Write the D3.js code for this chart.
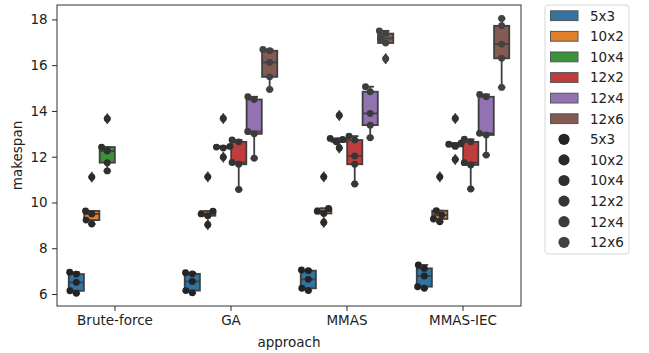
<!DOCTYPE html>
<html>
<head>
<meta charset="utf-8">
<title>makespan by approach</title>
<script src="https://cdn.jsdelivr.net/npm/d3@7/dist/d3.min.js"></script>
<style>
body { margin: 0; background: #fff; }
text { font-family: "DejaVu Sans", sans-serif; fill: #222; }
</style>
</head>
<body>
<script>
// categories and hue levels
var approaches = ["Brute-force", "GA", "MMAS", "MMAS-IEC"];
var sizes = ["5x3", "10x2", "10x4", "12x2", "12x4", "12x6"];
var yTicks = [6, 8, 10, 12, 14, 16, 18];

// makespan of the 5 runs, one list per size (same order as sizes)
var bruteForce = [[6.03, 6.14, 6.51, 6.87, 6.95], [9.06, 9.23, 9.5, 9.63, 11.11], [11.38, 11.74, 12.25, 12.42, 13.66], [], [], []];
var ga = [[6.05, 6.15, 6.55, 6.88, 6.93], [9.03, 9.42, 9.5, 9.62, 11.12], [11.98, 12.38, 12.42, 12.45, 13.67],
          [10.57, 11.67, 11.75, 12.65, 12.73], [11.93, 13.0, 13.1, 14.5, 14.62], [14.94, 15.49, 16.12, 16.63, 16.69]];
var mmas = [[6.15, 6.25, 6.64, 7.02, 7.05], [9.13, 9.52, 9.62, 9.74, 11.12], [12.38, 12.65, 12.75, 12.8, 13.8],
            [10.81, 11.67, 12.03, 12.73, 12.9], [12.83, 13.38, 13.89, 14.84, 15.06], [16.28, 16.97, 17.17, 17.38, 17.5]];
var mmasIec = [[6.25, 6.32, 6.79, 7.12, 7.27], [9.16, 9.28, 9.45, 9.64, 11.12], [11.88, 12.45, 12.55, 12.6, 13.67],
               [10.59, 11.64, 11.74, 12.65, 12.76], [12.07, 12.95, 13.02, 14.62, 14.72], [15.03, 16.3, 16.92, 17.72, 18.04]];
var runs = [bruteForce, ga, mmas, mmasIec];

var boxColors = ["#3274a1", "#e1812c", "#3a923a", "#c03d3e", "#9372b2", "#845b53"];
var dotColors = ["#232323", "#2a2a2a", "#303030", "#363636", "#3c3c3c", "#424242"];
var gray = "#3f3f3f";

var width = 649, height = 353;
var mLeft = 57, mRight = 521, mTop = 5, mBottom = 306;

var svg = d3.select("body").append("svg")
  .attr("width", width).attr("height", height)
  .style("background", "white");

var x = d3.scaleBand().domain(approaches).range([mLeft, mRight]);
var hue = d3.scaleBand().domain(sizes).range([-0.4 * x.bandwidth(), 0.4 * x.bandwidth()]);
var y = d3.scaleLinear().domain([5.476, 18.63]).range([mBottom, mTop]);

var boxW = hue.bandwidth() * 0.98;
var r = 3.45;

function center(a, s) { return x(a) + x.bandwidth() / 2 + hue(s) + hue.bandwidth() / 2; }

function stats(vals) {
  var v = vals.slice().sort(d3.ascending);
  var q1 = d3.quantile(v, 0.25), med = d3.quantile(v, 0.5), q3 = d3.quantile(v, 0.75);
  var iqr = q3 - q1;
  var inside = v.filter(function(d) { return d >= q1 - 1.5 * iqr && d <= q3 + 1.5 * iqr; });
  return {
    q1: q1, med: med, q3: q3,
    lo: d3.min(inside), hi: d3.max(inside),
    fliers: v.filter(function(d) { return d < q1 - 1.5 * iqr || d > q3 + 1.5 * iqr; })
  };
}

// simple beeswarm like seaborn: sorted by value, closest free spot, left wins ties
function swarm(vals) {
  var placed = [];
  var dia = 2 * r;
  vals.slice().sort(d3.ascending).forEach(function(v) {
    var py = y(v);
    var near = placed.filter(function(p) { return Math.abs(p.y - py) < dia; });
    var cands = [0];
    near.forEach(function(p) {
      var dx = Math.sqrt(dia * dia - (p.y - py) * (p.y - py));
      cands.push(p.dx - dx, p.dx + dx);
    });
    cands = cands.filter(function(c) {
      return near.every(function(p) {
        return Math.hypot(p.dx - c, p.y - py) >= dia - 1e-6;
      });
    });
    cands.sort(function(a, b) { return Math.abs(a) - Math.abs(b); });
    placed.push({ v: v, y: py, dx: cands[0] });
  });
  return placed;
}

// axes
var yAxis = svg.append("g")
  .attr("transform", "translate(" + mLeft + ",0)")
  .call(d3.axisLeft(y).tickValues(yTicks).tickSize(4.9).tickPadding(4.5).tickFormat(d3.format("d")));
var xAxis = svg.append("g")
  .attr("transform", "translate(0," + mBottom + ")")
  .call(d3.axisBottom(x).tickSize(4.9).tickPadding(5));
[xAxis, yAxis].forEach(function(g) {
  g.select(".domain").remove();
  g.selectAll("line").attr("stroke", "#222").attr("stroke-width", 1);
  g.selectAll("text").style("font-size", "13.5px").attr("fill", "#222");
});

svg.append("rect")
  .attr("x", mLeft).attr("y", mTop)
  .attr("width", mRight - mLeft).attr("height", mBottom - mTop)
  .attr("fill", "none").attr("stroke", "#333").attr("stroke-width", 1);

svg.append("text").attr("x", (mLeft + mRight) / 2).attr("y", 347)
  .attr("text-anchor", "middle").style("font-size", "13.5px").text("approach");
svg.append("text")
  .attr("transform", "translate(22," + (mTop + mBottom) / 2 + ") rotate(-90)")
  .attr("text-anchor", "middle").style("font-size", "13.5px").text("makespan");

// boxes
var plot = svg.append("g");
approaches.forEach(function(a, i) {
  sizes.forEach(function(s, j) {
    var vals = runs[i][j];
    if (!vals.length) return;
    var st = stats(vals);
    var cx = center(a, s);
    var g = plot.append("g");
    g.append("line").attr("x1", cx).attr("x2", cx).attr("y1", y(st.q3)).attr("y2", y(st.hi));
    g.append("line").attr("x1", cx).attr("x2", cx).attr("y1", y(st.q1)).attr("y2", y(st.lo));
    g.append("line").attr("x1", cx - boxW / 4).attr("x2", cx + boxW / 4).attr("y1", y(st.hi)).attr("y2", y(st.hi));
    g.append("line").attr("x1", cx - boxW / 4).attr("x2", cx + boxW / 4).attr("y1", y(st.lo)).attr("y2", y(st.lo));
    g.append("rect")
      .attr("x", cx - boxW / 2).attr("width", boxW)
      .attr("y", y(st.q3)).attr("height", y(st.q1) - y(st.q3))
      .attr("fill", boxColors[j]);
    g.append("line").attr("x1", cx - boxW / 2).attr("x2", cx + boxW / 2).attr("y1", y(st.med)).attr("y2", y(st.med));
    g.selectAll("line, rect").attr("stroke", gray).attr("stroke-width", 1.8);
    g.selectAll("path.flier").data(st.fliers).enter().append("path")
      .attr("class", "flier")
      .attr("d", "M0,-5.2L3.1,0L0,5.2L-3.1,0Z")
      .attr("transform", function(d) { return "translate(" + cx + "," + y(d) + ")"; })
      .attr("fill", gray).attr("stroke", gray).attr("stroke-width", 1);
  });
});

// swarm points on top
approaches.forEach(function(a, i) {
  sizes.forEach(function(s, j) {
    var cx = center(a, s);
    plot.append("g").selectAll("circle").data(swarm(runs[i][j])).enter().append("circle")
      .attr("cx", function(d) { return cx + d.dx; })
      .attr("cy", function(d) { return d.y; })
      .attr("r", r)
      .attr("fill", dotColors[j]);
  });
});

// legend
var leg = svg.append("g");
leg.append("rect").attr("x", 545).attr("y", 5).attr("width", 84).attr("height", 249)
  .attr("rx", 3).attr("fill", "white").attr("stroke", "#d6d6d6").attr("stroke-width", 1);
var rowY = function(k) { return 15.7 + k * 20.6; };
sizes.forEach(function(s, j) {
  leg.append("rect").attr("x", 550.5).attr("y", rowY(j) - 4.9).attr("width", 27.5).attr("height", 9.8)
    .attr("fill", boxColors[j]).attr("stroke", "#555").attr("stroke-width", 1);
  leg.append("text").attr("x", 590).attr("y", rowY(j)).attr("dy", "0.36em")
    .style("font-size", "13.5px").text(s);
});
sizes.forEach(function(s, j) {
  var k = j + sizes.length;
  leg.append("circle").attr("cx", 564).attr("cy", rowY(k)).attr("r", 5.6).attr("fill", dotColors[j]);
  leg.append("text").attr("x", 590).attr("y", rowY(k)).attr("dy", "0.36em")
    .style("font-size", "13.5px").text(s);
});
</script>
</body>
</html>
